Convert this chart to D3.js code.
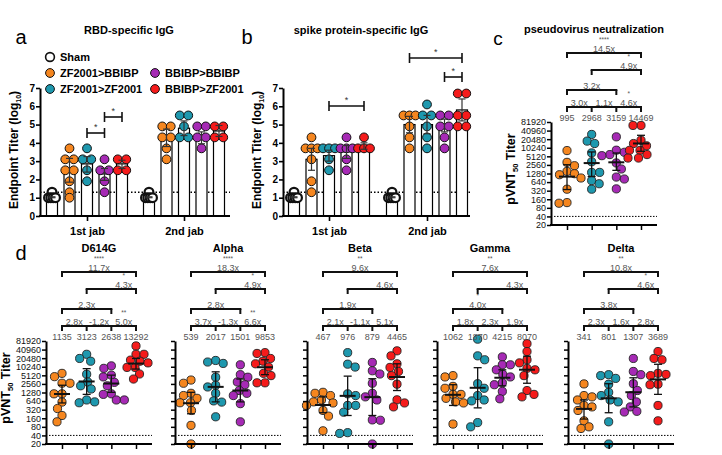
<!DOCTYPE html>
<html><head><meta charset="utf-8">
<script src="https://cdn.jsdelivr.net/npm/d3@7"></script>
<style>body{margin:0;background:#fff;} svg{display:block;font-family:"Liberation Sans",Arial,sans-serif;}</style>
</head><body><svg id="chart" width="722" height="455"></svg>
<script>
// ---------------- DATA ----------------
const groups = ["Sham", "ZF2001>BBIBP", "ZF2001>ZF2001", "BBIBP>BBIBP", "BBIBP>ZF2001"];
const vacGroups = groups.slice(1);
const groupColors = ["#ffffff", "#F5861F", "#1E98AE", "#A62AB5", "#F51B1B"];
const jabs = ["1st jab", "2nd jab"];
const logTicks = [0, 1, 2, 3, 4, 5, 6, 7];
const titerTicks = [20, 40, 80, 160, 320, 640, 1280, 2560, 5120, 10240, 20480, 40960, 81920];
const detectionLog = 1.3;
const detectionTiter = 40;

// panel a: RBD-specific IgG (log10 endpoint titer)
const rbdBars = [[1.0, 2.5, 2.85, 2.3, 2.85], [1.0, 4.3, 4.8, 4.3, 4.65]];
const rbdLo = [[1.0, 1.85, 2.4, 1.95, 2.6], [1.0, 3.8, 4.4, 3.95, 4.35]];
const rbdHi = [[1.05, 3.15, 3.25, 2.6, 3.05], [1.05, 4.75, 5.2, 4.6, 4.95]];
const rbdPoints1 = [[1.3, 1.0, 1.0, 1.0, 1.0], [3.7, 3.1, 3.1, 2.5, 2.5, 1.9, 1.3, 1.0], [3.7, 3.1, 3.1, 2.5, 1.9], [3.1, 2.5, 2.5, 1.9, 1.3], [3.1, 3.1, 2.5, 2.5]];
const rbdPoints2 = [[1.3, 1.0, 1.0, 1.0, 1.0], [4.9, 4.9, 4.3, 4.3, 3.7, 3.1], [5.5, 5.5, 4.9, 4.3, 4.3], [4.9, 4.9, 4.3, 4.3, 3.7], [4.9, 4.9, 4.3, 4.3]];

// panel b: spike protein-specific IgG
const spikeBars = [[1.0, 3.1, 3.3, 3.5, 3.8], [1.0, 5.0, 5.0, 4.95, 5.8]];
const spikeLo = [[1.0, 2.5, 3.0, 3.15, 3.65], [1.0, 4.55, 4.5, 4.6, 5.2]];
const spikeHi = [[1.05, 3.7, 3.6, 3.85, 4.0], [1.05, 5.45, 5.5, 5.3, 6.4]];
const spikePoints1 = [[1.3, 1.0, 1.0, 1.0, 1.0], [4.3, 3.7, 3.7, 3.7, 3.1, 1.9, 1.3], [3.7, 3.7, 3.7, 3.1, 2.5], [4.3, 3.7, 3.7, 3.7, 3.1, 2.5], [4.3, 3.7, 3.7, 3.7]];
const spikePoints2 = [[1.3, 1.0, 1.0, 1.0, 1.0], [5.5, 5.5, 5.5, 4.9, 4.3, 3.7], [6.1, 5.5, 5.5, 4.9, 4.3, 3.7], [5.5, 5.5, 4.9, 4.9, 4.3, 3.7], [6.7, 6.7, 5.5, 5.5, 4.9, 4.9]];

// panel c: pseudovirus neutralization (pVNT50)
const pseudoGMT = [995, 2968, 3159, 14469];
const pseudoLo = [350, 1000, 1650, 7700];
const pseudoHi = [2600, 7300, 6700, 28000];
const pseudoPoints = [[8150, 3150, 2400, 1520, 1260, 1160, 890, 360, 122, 116], [30000, 17500, 14400, 6750, 3300, 1400, 1400, 720, 560, 360], [24700, 8400, 7100, 5900, 5400, 3000, 1840, 960, 820, 370], [62000, 62000, 18800, 14400, 12000, 8300, 8300, 5900, 4460, 4460]];
const pseudoFolds = ["3.0x", "1.1x", "4.6x", "3.2x", "4.9x", "14.5x"];
const pseudoStars = ["", "", "*", "", "*", "****"];

// panel d: variants
const variantNames = ["D614G", "Alpha", "Beta", "Gamma", "Delta"];
const d614gGMT = [1135, 3123, 2638, 13292];
const d614gLo = [550, 1100, 1300, 8500];
const d614gHi = [2300, 8800, 5200, 20000];
const d614gPoints = [[6000, 4600, 2700, 2700, 1150, 1150, 590, 350, 200, 120], [28000, 20000, 16000, 5600, 3000, 2200, 1700, 700, 600, 560], [11000, 9000, 5200, 4500, 2900, 2200, 1150, 1100, 700, 700], [55000, 28000, 28000, 17500, 16000, 14000, 9700, 9700, 5700, 3800]];
const d614gFolds = ["2.8x", "-1.2x", "5.0x", "2.3x", "4.3x", "11.7x"];
const d614gStars = ["", "", "**", "", "*", "****"];

const alphaGMT = [539, 2017, 1501, 9853];
const alphaLo = [230, 600, 600, 5400];
const alphaHi = [1300, 6800, 3800, 18000];
const alphaPoints = [[3500, 2700, 1200, 1000, 800, 560, 560, 300, 90, 20], [17000, 15000, 13400, 4400, 2300, 2000, 1200, 650, 590, 180], [12000, 5400, 4400, 3000, 2400, 1500, 1200, 1000, 520, 120], [32000, 30000, 20000, 16000, 13000, 10000, 6000, 5000, 2800, 2800]];
const alphaFolds = ["3.7x", "-1.3x", "6.6x", "2.8x", "4.9x", "18.3x"];
const alphaStars = ["", "", "**", "", "*", "****"];

const betaGMT = [467, 976, 879, 4465];
const betaLo = [250, 200, 200, 1500];
const betaHi = [900, 4800, 3900, 13000];
const betaPoints = [[1300, 1200, 1000, 700, 600, 550, 450, 300, 190, 58], [32000, 12600, 10000, 1150, 1000, 450, 450, 260, 50, 47], [14500, 7400, 5700, 2700, 1200, 900, 700, 140, 136, 20], [37000, 24700, 13000, 9700, 7000, 5000, 2500, 710, 550, 400]];
const betaFolds = ["2.1x", "-1.1x", "5.1x", "1.9x", "4.6x", "9.6x"];
const betaStars = ["", "", "", "", "", "**"];

const gammaGMT = [1062, 1870, 4215, 8070];
const gammaLo = [450, 370, 2200, 2700];
const gammaHi = [2400, 9500, 8000, 24000];
const gammaPoints = [[5000, 4500, 2100, 1800, 1100, 1100, 800, 600, 550, 100], [95000, 24700, 18000, 2600, 1800, 1000, 700, 650, 113, 80], [22700, 12000, 12000, 8000, 5500, 4500, 2800, 2400, 1400, 770], [66000, 35000, 18000, 14000, 9000, 8000, 5000, 1500, 1100, 900]];
const gammaFolds = ["1.8x", "2.3x", "1.9x", "4.0x", "4.3x", "7.6x"];
const gammaStars = ["", "", "", "*", "", "**"];

const deltaGMT = [341, 801, 1307, 3689];
const deltaLo = [150, 250, 400, 1100];
const deltaHi = [700, 2600, 4200, 12500];
const deltaPoints = [[2560, 1000, 900, 700, 450, 400, 300, 130, 80, 70], [5400, 5000, 4000, 2500, 1300, 1000, 700, 600, 120, 20], [20000, 7000, 5400, 2600, 1500, 1000, 600, 400, 280, 265], [35000, 20000, 18000, 6000, 5500, 5000, 2500, 2400, 450, 130]];
const deltaFolds = ["2.3x", "1.6x", "2.8x", "3.8x", "4.6x", "10.8x"];
const deltaStars = ["", "", "", "", "*", "**"];

// ---------------- DRAWING ----------------
const svg = d3.select("#chart");
const GREY = "#555";

function text(g, x, y, s, o = {}) {
  return g.append("text").attr("x", x).attr("y", y).text(s)
    .attr("font-size", o.size || 10).attr("font-weight", o.weight || "normal")
    .attr("fill", o.fill || "#000").attr("text-anchor", o.anchor || "middle");
}

function stackOffsets(vals, sp, maxSpread) {
  const tot = d3.rollup(vals, v => v.length, d => d);
  const seen = new Map();
  return vals.map(v => {
    const n = tot.get(v), k = seen.get(v) || 0; seen.set(v, k + 1);
    const s = n > 1 ? Math.min(sp, maxSpread / (n - 1)) : 0;
    return (k - (n - 1) / 2) * s;
  });
}

function beeswarm(vals, y, r) {
  const order = d3.range(vals.length).sort((a, b) => vals[b] - vals[a]);
  const placed = []; const off = new Array(vals.length).fill(0);
  order.forEach((i, n) => {
    const yi = y(vals[i]);
    let best = 0, found = false;
    for (let s = 0; s <= 40 && !found; s += 0.5) {
      const cands = s === 0 ? [0] : (n % 2 ? [-s, s] : [s, -s]);
      for (const c of cands) {
        if (placed.every(p => (p.x - c) ** 2 + (p.y - yi) ** 2 >= (2 * r * 0.95) ** 2)) { best = c; found = true; break; }
      }
    }
    off[i] = best; placed.push({ x: best, y: yi });
  });
  return off;
}

function styleAxis(sel, domainW, tickW) {
  sel.select(".domain").attr("stroke-width", domainW).attr("stroke", "#000");
  sel.selectAll(".tick line").attr("stroke-width", tickW).attr("stroke", "#000");
}

function barPanel(p) {
  const g = svg.append("g");
  const y = d3.scaleLinear().domain([0, 7]).range([216, 88]);
  const xJab = d3.scalePoint().domain(jabs).range(p.jabX);
  const xGrp = d3.scalePoint().domain(groups).range([-35, 35]);
  g.append("line").attr("x1", p.axisX).attr("x2", p.xEnd).attr("y1", y(detectionLog)).attr("y2", y(detectionLog))
    .attr("stroke", "#000").attr("stroke-width", 1.3).attr("stroke-dasharray", "1.5,2");
  jabs.forEach((j, ji) => groups.forEach((gr, gi) => {
    const cx = xJab(j) + xGrp(gr);
    g.append("rect").attr("x", cx - 5.5).attr("width", 11).attr("y", y(p.bars[ji][gi])).attr("height", y(0) - y(p.bars[ji][gi]))
      .attr("fill", "#fff").attr("stroke", "#000").attr("stroke-width", 1.2);
  }));
  jabs.forEach((j, ji) => groups.forEach((gr, gi) => {
    const vals = p.points[ji][gi];
    const offs = stackOffsets(vals, 8.5, gi === 0 ? 7 : 12);
    const cx = xJab(j) + xGrp(gr);
    vals.forEach((v, k) => {
      g.append("circle").attr("cx", cx + offs[k]).attr("cy", y(v)).attr("r", 4.4)
        .attr("fill", groupColors[gi]).attr("stroke", "#111").attr("stroke-width", gi === 0 ? 2.2 : 1);
    });
  }));
  jabs.forEach((j, ji) => groups.forEach((gr, gi) => {
    const cx = xJab(j) + xGrp(gr);
    const lo = y(p.lo[ji][gi]), hi = y(p.hi[ji][gi]);
    g.append("line").attr("x1", cx).attr("x2", cx).attr("y1", lo).attr("y2", hi).attr("stroke", "#333").attr("stroke-width", 1.2);
    [lo, hi].forEach(yy => g.append("line").attr("x1", cx - 3.5).attr("x2", cx + 3.5).attr("y1", yy).attr("y2", yy).attr("stroke", "#333").attr("stroke-width", 1.2));
  }));
  const ya = g.append("g").attr("transform", `translate(${p.axisX},0)`)
    .call(d3.axisLeft(y).tickValues(logTicks).tickSize(4).tickSizeOuter(0).tickFormat(d3.format("d")));
  styleAxis(ya, 2, 1.6);
  ya.selectAll(".tick text").attr("font-size", 10).attr("font-weight", "bold").attr("fill", "#000").attr("font-family", null).attr("x", -5);
  g.append("line").attr("x1", p.axisX - 1).attr("x2", p.xEnd).attr("y1", y(0)).attr("y2", y(0)).attr("stroke", "#000").attr("stroke-width", 2);
  const xa = g.append("g").attr("transform", `translate(0,${y(0)})`)
    .call(d3.axisBottom(xJab).tickSize(5).tickSizeOuter(0));
  xa.select(".domain").remove();
  xa.selectAll(".tick line").attr("stroke-width", 1.6);
  xa.selectAll(".tick text").attr("font-size", 11).attr("font-weight", "bold").attr("fill", "#000").attr("font-family", null).attr("y", 11);
  const t = g.append("text").attr("transform", `translate(${p.axisX - 22},150) rotate(-90)`)
    .attr("text-anchor", "middle").attr("font-size", 12).attr("font-weight", "bold");
  t.append("tspan").text("Endpoint Titer (log");
  t.append("tspan").text("10").attr("font-size", 7).attr("dy", 3);
  t.append("tspan").text(")").attr("dy", -3);
  p.brackets.forEach(b => {
    const x1 = xJab(jabs[b.jab]) + xGrp(groups[b.from]);
    const x2 = xJab(jabs[b.jab]) + xGrp(groups[b.to]);
    g.append("line").attr("x1", x1).attr("x2", x2).attr("y1", b.y).attr("y2", b.y).attr("stroke", "#111").attr("stroke-width", 1.6);
    [x1, x2].forEach(xx => g.append("line").attr("x1", xx).attr("x2", xx).attr("y1", b.y - 5).attr("y2", b.y + 5).attr("stroke", "#111").attr("stroke-width", 1.6));
    text(g, (x1 + x2) / 2, b.y - 3, "*", { size: 9, fill: "#333" });
  });
  text(g, p.titleX, 34, p.title, { size: 11, weight: "bold" });
  text(g, p.letterX, 44, p.letter, { size: 20 });
}

barPanel({ axisX: 40, xEnd: 230, jabX: [87, 184], bars: rbdBars, lo: rbdLo, hi: rbdHi, points: [rbdPoints1, rbdPoints2],
  brackets: [{ jab: 0, from: 2, to: 3, y: 133 }, { jab: 0, from: 3, to: 4, y: 117 }],
  title: "RBD-specific IgG", titleX: 129, letter: "a", letterX: 21 });
barPanel({ axisX: 283, xEnd: 470, jabX: [329, 427], bars: spikeBars, lo: spikeLo, hi: spikeHi, points: [spikePoints1, spikePoints2],
  brackets: [{ jab: 0, from: 2, to: 4, y: 106 }, { jab: 1, from: 1, to: 4, y: 58 }, { jab: 1, from: 3, to: 4, y: 77 }],
  title: "spike protein-specific IgG", titleX: 361, letter: "b", letterX: 247 });

const legendSlots = [[50, 57], [50, 73], [50, 89], [155, 73], [155, 89]];
groups.forEach((gr, i) => {
  const [lx, ly] = legendSlots[i];
  svg.append("circle").attr("cx", lx).attr("cy", ly).attr("r", 4.4).attr("fill", groupColors[i]).attr("stroke", "#111").attr("stroke-width", i === 0 ? 1.6 : 1);
  text(svg, lx + 10, ly + 4, gr, { size: 11, weight: "bold", anchor: "start" });
});

function scatterPanel(p) {
  const g = svg.append("g");
  const y = d3.scaleLog().base(2).domain([20, 81920]).range([p.y0, p.y0 - 103]);
  const x = d3.scalePoint().domain(vacGroups).range([p.axisX + 16, p.axisX + 90]);
  const top = y(81920);
  const xEnd = p.axisX + 106;
  g.append("line").attr("x1", p.axisX + 3).attr("x2", xEnd).attr("y1", y(detectionTiter)).attr("y2", y(detectionTiter))
    .attr("stroke", "#000").attr("stroke-width", 1).attr("stroke-dasharray", "1.5,1.5");
  vacGroups.forEach((gr, gi) => {
    const vals = p.points[gi];
    const offs = beeswarm(vals, y, 4.1);
    vals.forEach((v, k) => g.append("circle").attr("cx", x(gr) + offs[k]).attr("cy", y(v)).attr("r", 4.1)
      .attr("fill", groupColors[gi + 1]).attr("stroke", "#222").attr("stroke-width", 0.9));
  });
  vacGroups.forEach((gr, gi) => {
    const cx = x(gr);
    const lo = y(p.lo[gi]), hi = y(p.hi[gi]), m = y(p.gmt[gi]);
    g.append("line").attr("x1", cx).attr("x2", cx).attr("y1", lo).attr("y2", hi).attr("stroke", "#111").attr("stroke-width", 1.3);
    [lo, hi].forEach(yy => g.append("line").attr("x1", cx - 4).attr("x2", cx + 4).attr("y1", yy).attr("y2", yy).attr("stroke", "#111").attr("stroke-width", 1.3));
    g.append("line").attr("x1", cx - 8).attr("x2", cx + 8).attr("y1", m).attr("y2", m).attr("stroke", "#111").attr("stroke-width", 2);
    text(g, cx, top - 1, d3.format("d")(p.gmt[gi]), { size: 9, fill: GREY });
  });
  const ya = g.append("g").attr("transform", `translate(${p.axisX},0)`)
    .call(d3.axisLeft(y).tickValues(titerTicks).tickSize(4).tickSizeOuter(0).tickFormat(p.labels ? d3.format("d") : ""));
  styleAxis(ya, 2, 1.5);
  ya.selectAll(".tick text").attr("font-size", 9).attr("fill", "#111").attr("font-family", null).attr("x", -5);
  g.append("line").attr("x1", p.axisX - 1).attr("x2", xEnd).attr("y1", p.y0).attr("y2", p.y0).attr("stroke", "#000").attr("stroke-width", 2);
  const xa = g.append("g").attr("transform", `translate(0,${p.y0})`).call(d3.axisBottom(x).tickSize(5).tickSizeOuter(0).tickFormat(""));
  xa.select(".domain").remove();
  xa.selectAll(".tick line").attr("stroke-width", 1.5);
  if (p.labels) {
    const t = g.append("text").attr("transform", `translate(${p.axisX - 36},${p.y0 - 56}) rotate(-90)`)
      .attr("text-anchor", "middle").attr("font-size", 12.5).attr("font-weight", "bold");
    t.append("tspan").text("pVNT");
    t.append("tspan").text("50").attr("font-size", 7.5).attr("dy", 3);
    t.append("tspan").text(" Titer").attr("dy", -3);
  }
  const bLine = (x1, x2, yy, ticks) => {
    g.append("line").attr("x1", x1 - 1).attr("x2", x2 + 1).attr("y1", yy).attr("y2", yy).attr("stroke", "#111").attr("stroke-width", 2);
    ticks.forEach(tx => g.append("line").attr("x1", tx).attr("x2", tx).attr("y1", yy).attr("y2", yy + 5).attr("stroke", "#111").attr("stroke-width", 2));
  };
  const xs = vacGroups.map(d => x(d));
  const label = (cx, yy, fold, star) => {
    text(g, cx, yy - 1.5, fold, { size: 9, fill: GREY });
    if (star) text(g, cx, yy - 11, star, { size: 6.5, fill: GREY });
  };
  const yb = top - 15;
  bLine(xs[0], xs[3], yb, xs);
  for (let i = 0; i < 3; i++) label((xs[i] + xs[i + 1]) / 2, yb, p.folds[i], p.stars[i]);
  const y13 = top - 32; bLine(xs[0], xs[2], y13, [xs[0], xs[2]]); label(xs[1], y13, p.folds[3], p.stars[3]);
  const y24 = top - 52; bLine(xs[1], xs[3], y24, [xs[1], xs[3]]); label((xs[2] + xs[3]) / 2, y24, p.folds[4], p.stars[4]);
  const y14 = top - 69; bLine(xs[0], xs[3], y14, [xs[0], xs[3]]); label((xs[0] + xs[3]) / 2, y14, p.folds[5], p.stars[5]);
  text(g, p.titleX, p.titleY, p.title, { size: 11, weight: "bold" });
}

scatterPanel({ axisX: 551, y0: 225, labels: true, gmt: pseudoGMT, lo: pseudoLo, hi: pseudoHi, points: pseudoPoints,
  folds: pseudoFolds, stars: pseudoStars, title: "pseudovirus neutralization", titleX: 594, titleY: 33 });
text(svg, 498, 45, "c", { size: 19 });

const variantData = [
  [d614gGMT, d614gLo, d614gHi, d614gPoints, d614gFolds, d614gStars],
  [alphaGMT, alphaLo, alphaHi, alphaPoints, alphaFolds, alphaStars],
  [betaGMT, betaLo, betaHi, betaPoints, betaFolds, betaStars],
  [gammaGMT, gammaLo, gammaHi, gammaPoints, gammaFolds, gammaStars],
  [deltaGMT, deltaLo, deltaHi, deltaPoints, deltaFolds, deltaStars]
];
const variantAxisX = [46, 175, 307, 437, 568];
variantNames.forEach((name, i) => {
  const [gmt, lo, hi, pts, folds, stars] = variantData[i];
  scatterPanel({ axisX: variantAxisX[i], y0: 444, labels: i === 0, gmt, lo, hi, points: pts, folds, stars,
    title: name, titleX: variantAxisX[i] + 53, titleY: 252 });
});
text(svg, 21, 260, "d", { size: 20 });
</script></body></html>
